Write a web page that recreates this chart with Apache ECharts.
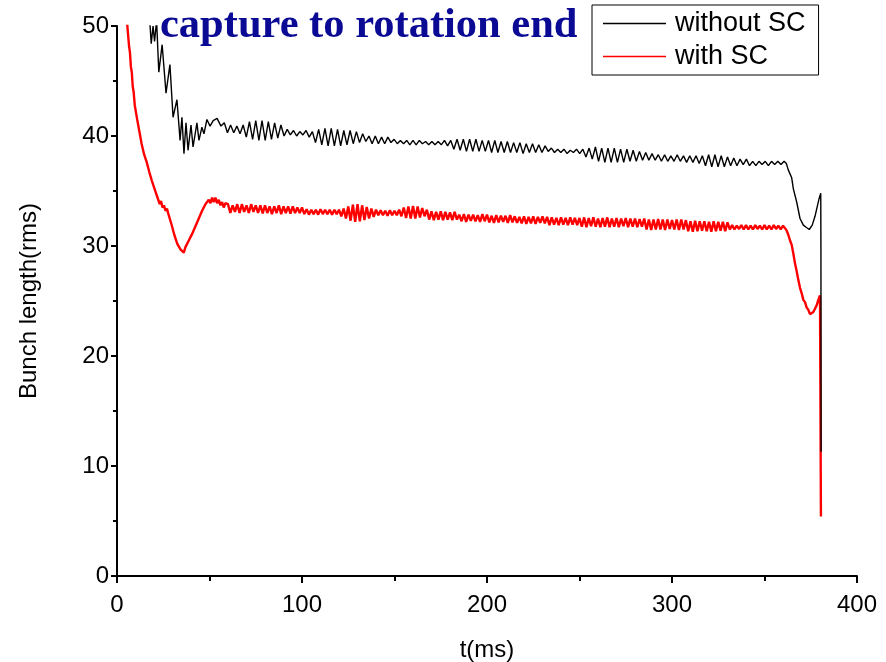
<!DOCTYPE html>
<html>
<head>
<meta charset="utf-8">
<script src="https://cdn.jsdelivr.net/npm/echarts@6/dist/echarts.min.js"></script>
<style>
  html, body { margin: 0; padding: 0; background: #ffffff; }
  #chart { width: 886px; height: 662px; }
</style>
</head>
<body>
<div id="chart"></div>
<script>
// ---- without SC: capture transient (t in ms, bunch length) ----
const noScEarlyT = [17.5, 18.5, 19.5, 20.3, 21.4, 22.6, 24.4, 26.5, 28.6, 30.3, 32.4, 34.1, 35.1, 36.2,
  37.3, 38.4, 40.0, 41.1, 43.2, 44.3, 45.9, 47.0, 48.6, 50.3, 52.0, 54.1, 56.2];
const noScEarlyV = [51.0, 48.4, 50.0, 48.6, 50.5, 45.8, 48.3, 43.9, 46.5, 41.7, 43.3, 39.6, 41.7, 38.4,
  41.2, 38.7, 41.0, 39.0, 41.2, 39.6, 40.8, 40.2, 41.5, 40.9, 41.4, 41.6, 40.9];

// ---- without SC: coherent oscillation, sampled every 1.7 ms from 58 ms ----
const noScOscStart = 58;
const noScOscStep = 1.7;
const noScOscV = [
  41.2, 40.3, 41.0, 40.3, 40.9, 40.2,
  41.0, 39.9, 41.3, 39.7, 41.4, 39.6, 41.4, 39.6, 41.3, 39.7, 41.2, 39.8, 41.0, 40.0,
  40.6, 40.1, 40.5, 40.0, 40.4, 40.1, 40.5, 39.9,
  40.4, 39.4, 40.6, 39.2, 40.7, 39.1, 40.7, 39.1, 40.6, 39.1, 40.5, 39.2, 40.5, 39.3, 40.4, 39.4, 40.2, 39.5,
  40.0, 39.3, 40.0, 39.3, 39.9, 39.3, 39.9, 39.4,
  39.7, 39.3, 39.6, 39.3, 39.6, 39.2, 39.6, 39.2, 39.6, 39.3, 39.5, 39.2, 39.5, 39.2, 39.5, 39.2, 39.6, 39.1,
  39.6, 38.8, 39.7, 38.7, 39.7, 38.6, 39.7, 38.6, 39.7, 38.6, 39.6, 38.6, 39.6, 38.5, 39.6, 38.5,
  39.5, 38.5, 39.5, 38.5, 39.4, 38.5, 39.4, 38.4, 39.3, 38.5, 39.3, 38.5, 39.2, 38.5, 39.1, 38.6,
  38.9, 38.5, 38.8, 38.5, 38.8, 38.4, 38.7, 38.5, 38.8, 38.4, 38.8,
  38.1, 38.9, 37.9, 39.0, 37.7, 38.9, 37.6, 38.9, 37.6, 38.9, 37.6, 38.8, 37.6, 38.8, 37.7, 38.7, 37.7, 38.6, 37.8, 38.5, 37.8,
  38.4, 37.8, 38.3, 37.7, 38.3, 37.7, 38.2, 37.7, 38.3, 37.7, 38.2, 37.6, 38.2, 37.6, 38.2, 37.5,
  38.2, 37.3, 38.3, 37.2, 38.3, 37.2, 38.2, 37.2, 38.1, 37.3, 38.0, 37.3, 37.9, 37.4, 37.9,
  37.3, 37.7, 37.3, 37.7, 37.4, 37.7, 37.3, 37.7, 37.4, 37.7, 37.4, 37.7
];

// ---- without SC: rotation and end of run ----
const noScTailT = [361.8, 362.9, 364.7, 365.6, 367.4, 369.2, 371.0, 372.5, 374.2, 375.8, 377.3, 379.5, 380.4, 380.5, 380.6];
const noScTailV = [37.5, 36.9, 36.2, 35.2, 34.0, 32.5, 31.9, 31.7, 31.5, 31.9, 32.7, 34.3, 34.8, 29.9, 11.3];

// ---- with SC: capture transient ----
const scEarlyT = [5.4, 6.0, 6.5, 7.0, 7.5, 8.0, 8.5, 9.0, 9.6, 10.2, 10.8, 11.4, 12.0, 12.6, 13.3, 14.0,
  14.7, 15.4, 16.1, 16.8, 17.5, 18.2, 18.9, 19.6, 20.3, 21.0, 21.7, 22.4, 23.1, 23.8, 24.6, 25.4, 26.2,
  27.0, 27.8, 28.6, 29.4, 30.2, 31.0, 31.8, 32.6, 33.4, 34.3, 35.2, 36.1, 37.0, 37.9, 38.8, 39.7, 40.6,
  41.5, 42.4, 43.3, 44.2, 45.1, 46.0, 46.9, 47.8, 48.7, 49.6, 50.5, 51.4, 52.3, 53.2, 54.1, 55.0, 55.9,
  56.8, 57.7, 58.6];
const scEarlyV = [50.4, 49.2, 48.2, 47.6, 46.3, 45.8, 44.5, 44.0, 42.8, 42.7, 41.6, 41.6, 40.5, 40.4, 39.3, 39.2,
  38.3, 38.4, 37.6, 37.6, 36.7, 36.8, 35.9, 36.0, 35.2, 35.3, 34.5, 34.6, 33.8, 34.1, 33.5, 33.7, 33.2,
  33.4, 32.9, 32.8, 32.0, 31.9, 31.0, 30.9, 30.2, 30.3, 29.7, 29.8, 29.4, 29.9, 29.9, 30.5, 30.5, 31.1,
  31.1, 31.8, 31.9, 32.5, 32.6, 33.2, 33.2, 33.8, 33.7, 34.2, 33.9, 34.4, 34.0, 34.4, 33.9, 34.2, 33.7,
  34.0, 33.5, 33.9];

// ---- with SC: noisy plateau, sampled every 1.25 ms from 60 ms ----
const scOscStart = 60;
const scOscStep = 1.25;
const scOscV = [
  33.8, 33.0, 33.7, 33.1, 33.8, 33.0, 33.8, 33.1, 33.7, 33.0, 33.8, 33.1, 33.7, 33.0, 33.7,
  32.95, 33.7, 33.0, 33.6, 32.9, 33.6, 33.0, 33.7, 32.9, 33.6, 33.0, 33.6, 32.95, 33.6, 33.0, 33.5, 33.0, 33.5,
  32.9, 33.35, 32.85, 33.3, 32.9, 33.3, 32.85, 33.35, 32.9, 33.3, 32.9, 33.3, 32.85, 33.3, 32.9, 33.3,
  32.7, 33.4, 32.5, 33.6, 32.3, 33.75, 32.2, 33.8, 32.25, 33.7, 32.35, 33.55, 32.5, 33.4, 32.65, 33.3,
  32.8, 33.25, 32.8, 33.2, 32.75, 33.25, 32.8, 33.2, 32.8,
  33.3, 32.7, 33.5, 32.55, 33.6, 32.5, 33.65, 32.5, 33.6, 32.6, 33.45, 32.7, 33.3,
  32.4, 33.15, 32.35, 33.1, 32.4, 33.15, 32.35, 33.1, 32.4, 33.05, 32.35, 33.1, 32.4,
  32.85, 32.25, 32.9, 32.2, 32.85, 32.3, 32.85, 32.25, 32.8, 32.2, 32.9, 32.25, 32.85,
  32.15, 32.75, 32.1, 32.8, 32.15, 32.75, 32.2, 32.75, 32.1, 32.8, 32.15, 32.7, 32.1,
  32.65, 32.05, 32.7, 32.0, 32.65, 32.05, 32.7, 32.0, 32.65, 32.1, 32.7, 32.05, 32.65,
  31.9, 32.6, 31.95, 32.55, 31.9, 32.6, 31.95, 32.55, 31.9, 32.6, 31.95, 32.55, 31.9,
  32.55, 31.75, 32.6, 31.7, 32.55, 31.8, 32.6, 31.75, 32.5, 31.7, 32.55, 31.75, 32.6, 31.7, 32.5,
  31.75, 32.55, 31.7, 32.5, 31.8, 32.55, 31.7, 32.5, 31.75, 32.5, 31.7, 32.45, 31.75, 32.5,
  31.5, 32.4, 31.45, 32.4, 31.5, 32.45, 31.5, 32.4, 31.45, 32.4, 31.55, 32.35, 31.5, 32.4, 31.45, 32.4, 31.5, 32.35,
  31.35, 32.25, 31.3, 32.3, 31.35, 32.25, 31.4, 32.25, 31.35, 32.2, 31.3, 32.25, 31.35, 32.2, 31.4, 32.2, 31.35, 32.15,
  31.5, 31.9, 31.5, 31.85, 31.55, 31.9, 31.5, 31.9, 31.5, 31.85, 31.5, 31.9,
  31.55, 31.85, 31.5, 31.9, 31.5, 31.85, 31.5, 31.9, 31.55, 31.85, 31.5, 31.85
];

// ---- with SC: rotation and end of run ----
const scTailT = [361.2, 362.0, 362.9, 363.8, 364.7, 365.6, 366.5, 367.4, 368.3, 369.2, 370.1, 371.0, 371.9,
  372.8, 373.7, 374.6, 375.5, 376.4, 377.3, 378.2, 379.1, 380.0, 380.5];
const scTailV = [31.6, 31.4, 31.0, 30.5, 30.1, 29.3, 28.4, 27.7, 26.9, 26.2, 25.7, 25.1, 24.9,
  24.4, 24.2, 23.8, 23.7, 24.0, 24.3, 24.6, 25.1, 25.5, 5.4];

const seriesNames = ['without SC', 'with SC'];
const titleText = 'capture to rotation end';
const xName = 't(ms)';
const yName = 'Bunch length(rms)';

function pairs(ts, vs) { return ts.map((t, i) => [t, vs[i]]); }
function sampled(t0, dt, vs) { return vs.map((v, i) => [+(t0 + i * dt).toFixed(3), v]); }

const noScData = [].concat(
  pairs(noScEarlyT, noScEarlyV),
  sampled(noScOscStart, noScOscStep, noScOscV),
  pairs(noScTailT, noScTailV)
);
const scData = [].concat(
  pairs(scEarlyT, scEarlyV),
  sampled(scOscStart, scOscStep, scOscV),
  pairs(scTailT, scTailV)
);

const sans = 'Liberation Sans, Arial, sans-serif';
const chart = echarts.init(document.getElementById('chart'), null, { renderer: 'canvas' });

chart.setOption({
  animation: false,
  backgroundColor: '#ffffff',
  title: {
    text: titleText,
    left: 160, top: 5, padding: 0,
    textStyle: { fontFamily: 'Liberation Serif, Times New Roman, serif', fontWeight: 'bold', fontSize: 42.5, color: '#0a0a94' }
  },
  legend: {
    data: seriesNames,
    orient: 'vertical',
    left: 592, top: 5,
    icon: 'rect',
    itemWidth: 63, itemHeight: 1.5, itemGap: 6,
    padding: [5, 13, 5, 11],
    borderColor: '#000', borderWidth: 1,
    backgroundColor: '#fff',
    textStyle: { fontFamily: sans, fontSize: 27, color: '#000', padding: [0, 0, 0, 4] }
  },
  grid: { left: 117, right: 29, top: 26, bottom: 86, containLabel: false, outerBoundsMode: 'none' },
  xAxis: {
    type: 'value', min: 0, max: 400, interval: 100,
    name: xName, nameLocation: 'middle', nameGap: 62,
    nameTextStyle: { fontFamily: sans, fontSize: 24, color: '#000' },
    axisLine: { show: true, onZero: false, lineStyle: { color: '#000', width: 2 } },
    axisTick: { show: true, length: 7, lineStyle: { color: '#000', width: 2 } },
    minorTick: { show: true, splitNumber: 2, length: 5, lineStyle: { color: '#000', width: 2 } },
    axisLabel: { margin: 17, fontFamily: sans, fontSize: 24, color: '#000' },
    splitLine: { show: false }
  },
  yAxis: {
    type: 'value', min: 0, max: 50, interval: 10,
    name: yName, nameLocation: 'middle', nameGap: 76, nameRotate: 90,
    nameTextStyle: { fontFamily: sans, fontSize: 24, color: '#000' },
    axisLine: { show: true, onZero: false, lineStyle: { color: '#000', width: 2 } },
    axisTick: { show: true, length: 6, lineStyle: { color: '#000', width: 2 } },
    minorTick: { show: true, splitNumber: 2, length: 4, lineStyle: { color: '#000', width: 2 } },
    axisLabel: { margin: 8, fontFamily: sans, fontSize: 24, color: '#000' },
    splitLine: { show: false }
  },
  series: [
    {
      name: seriesNames[0], type: 'line', data: noScData,
      showSymbol: false, symbol: 'none', z: 3,
      lineStyle: { color: '#000000', width: 1.4 }, itemStyle: { color: '#000000' }
    },
    {
      name: seriesNames[1], type: 'line', data: scData,
      showSymbol: false, symbol: 'none', z: 2,
      lineStyle: { color: '#ff0000', width: 2.4 }, itemStyle: { color: '#ff0000' }
    }
  ]
});
</script>
</body>
</html>
